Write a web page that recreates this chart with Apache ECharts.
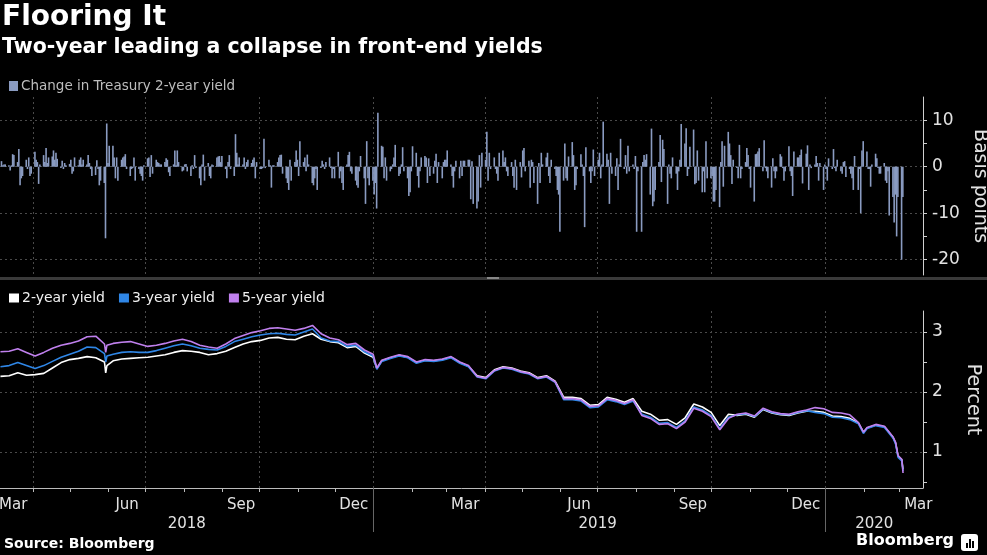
<!DOCTYPE html>
<html><head><meta charset="utf-8">
<script src="https://cdn.jsdelivr.net/npm/echarts@6/dist/echarts.min.js"></script>
<style>html,body{margin:0;padding:0;background:#000}#c{width:987px;height:555px}</style>
</head><body><div id="c"></div>
<script>
// ---------- DATA ----------
// Daily change in Treasury 2-year yield (bp), in segments of consecutive weekdays
const seg1Start = [2018, 3, 6];
const seg1 = [1.2,0.3,0.5,0.5,0.3,-0.8,0.3,2.7,2.5,1,
 3.8,-4,-2.5,-2,1.5,-0.5,2,-2,-1.5,3.2,
 1.5,1,-3.7,0.5,2.5,1,4,0.8,2,2.2,
 3.5,1.5,3,1.7,-0.3,1.3,-0.5,0.8,0.3,0.6,
 1.5,-1.5,-1,2,0.3,1.5,2,0.5,1.5,0.5,
 2.5,0.8,-0.5,-2,-1.8,1.4,-0.5,-4,-3,-3.5,
 -15.4,9.3,0.8,4.5,4.5,2,-2.5,2,-3,1.5,
 2,2.2,2.7,-0.5,-2,-0.5,-0.3,2,-3,-0.5,
 -1.5,-2,-3,0.3,1.8,2,-2.2,2.5,-1.5,1.5,
 1,0.8,0.5,0.5,1,1.8,1.5,-1.2,-2,0.5,
 3.5,0.3,3.5,1,-1,-0.8,0.5,0.6,-1,-2,
 0.3,-0.5,2.5,-0.3,-2.5,-4,0.5,2.6,-3,0.8,
 -2,-2.5,0.5,0.3,2,2.2,2.3,1,2.3,-0.5,
 -2.5,1,2.5,-0.5];
const seg2Start = [2018, 9, 10];
const seg2 = [-2,7,3,0.5,2,0.5,2,-0.5,
 1,1.5,0.8,1.5,2,-2.5,1,-0.5,-0.5,-0.3,
 6,-0.3,1.5,0.3,-4.5,0.3,0.3,1,2,
 2.5,2.6,-1.5,-2.5,-3.5,-5,1.5,-3,1,
 3.5,1.5,-2,5.5,1,2,-1,2.6,0.5,-3.5,
 -4,-2.5,-0.5,-5,-0.3,1.3,0.5,-0.5,1,2,
 -0.3,-2.5,-0.5,-2.5,3.2,-2.5,-1,-3.5,-5,0.5,
 2.5,3.2,-1,-1.5,-3,-4,-4.5,-1,2.3,
 -2.5,-8,5.5,-2.5,-4,-3,-6,-3.5,-9,11.6,
 4.5,4.3,-2.5,2,-3,-1,-0.5,0.5,2,
 4.7,-2,-1.5,0.5,4.2,-1,-2.5,-6.3,-5.5,-1,
 4.4,3,-2,-4.5,-1,2,2.3,2,-3.5,
 1.8,-2,-1.5,1.3,2.8,-3.5,1,-2.5,1,1.5,
 1.5,3.5,0.5,-2,-4.5,-1,1.3,-2.5,1.3,
 -2,1.3,1.3];
const seg3Start = [2019, 3, 18];
const seg3 = [1.5,1.5,-7,1.2,-8,-9,-7.5,2.5,-4.5,3,
 1.5,7.5,-3,3,-0.5,2,-0.5,-1.5,-3,
 3,3.5,1,2,-1,-2,1,-2,-4.5,
 1.5,-5,1,-2.3,3.5,4,-1,1.3,-4.5,1.5,
 1,-3.5,-8,0.8,-3.5,3,0.5,2,3,
 -2,-3.5,1.5,-0.5,-2,-5,-6,-14,-3,5,
 -2.5,-3,2.2,5.3,2.5,-5,-4,-0.5,2.7,
 0.5,-2,-13,4.2,-1,-3.5,-1,3.7,-2,1.5,
 3,-2.5,0.5,9.7,2.8,1.5,-8,3,-1.5,
 -2,1.8,-5,0.5,6,-0.5,2.5,-1.5,4.5,-1,
 0.5,-0.5,2.3,-14,-1,-14,1,2.5,1.5,
 2.7,-6,8.2,-8.5,-7.5,-5,1,6.8,-3.3,5.8,
 3.8,-8,0.5,-1.5,-2.5,2,-1.5,-5,-1,1.5,
 9.2,5,8.3,-2,-0.5,4.3,8,-3.8,-3.5,3.5];
const seg4Start = [2019, 9, 20];
const seg4 = [-3,-5.5,-1,-5.5,5.5,-2.5,-2.5,-2,-7.5,-7.5,
 -5,-8.7,1,5.5,-4.3,4.5,7.5,5,2.5,-3.7,
 1.5,-0.3,-2.5,4.7,-2.5,-0.5,1,4,2.5,-0.5,
 -4.5,-7.5,2.7,2.8,3.3,4,-1,5.7,-0.3,-1,
 -2.5,-4.5,1.8,-1,-2.5,-1,2.7,2.2,-0.3,
 -3,-1,4.4,-1,-2,-6.3,3.3,2,2,2.5,
 3.7,-3.6,2.8,4.6,-5,0.5,-0.3,0.5,
 2.3,0.8,-3,0.8,-5,0.5,-0.5,-3,1.8,
 -0.5,3.8,-0.3,-1,1.5,-1,-1.5,1,1.2,-2.2,
 -0.5,-1.5,-2.5,-5,2.3,-5,-0.5,-10,3.5,
 5.5,3.3,-0.5,-0.5,-4.3,0.5,2.8,1.8,-0.3,-1.5,
 -1.5,0.8,-3,-3.5,-1,-10.5,-6.5,-12,-6,-15,
 -6.5,-20,-6.5];

// Weekly yields (%), one value per Monday starting 2018-03-05
const weekStart = [2018, 3, 5];
const y2 = [2.26,2.27,2.32,2.28,2.29,2.31,2.40,2.49,2.54,2.56,
 2.59,2.57,2.50,2.52,2.55,2.56,2.57,2.58,2.60,2.62,
 2.66,2.69,2.68,2.66,2.62,2.64,2.68,2.74,2.80,2.84,
 2.86,2.90,2.91,2.88,2.87,2.93,2.97,2.88,2.84,
 2.82,2.74,2.76,2.65,2.58,
 2.52,2.57,2.61,2.58,2.49,2.53,2.52,2.54,2.58,2.49,2.43,
 2.27,2.24,2.37,2.42,2.40,2.35,2.32,2.24,2.27,2.18,
 1.91,1.91,1.89,1.78,1.79,1.91,1.88,1.83,1.89,
 1.68,1.63,1.53,1.54,1.46,1.57,1.80,1.75,1.66,1.44,1.63,
 1.61,1.63,1.58,1.71,1.65,1.62,1.61,1.65,1.68,
 1.68,1.66,1.60,1.59,1.56,
 1.48,1.40,1.45,1.42,1.24,0.87];
const y3 = [2.42,2.44,2.49,2.44,2.39,2.44,2.51,2.58,2.63,2.68,
 2.75,2.74,2.64,2.63,2.66,2.67,2.66,2.66,2.69,2.73,
 2.77,2.80,2.77,2.73,2.71,2.70,2.76,2.84,2.88,2.92,
 2.95,2.97,2.98,2.96,2.95,3.00,3.05,2.90,2.85,
 2.84,2.76,2.78,2.67,2.60,
 2.51,2.56,2.60,2.57,2.48,2.52,2.51,2.53,2.57,2.48,2.42,
 2.25,2.22,2.35,2.40,2.38,2.33,2.30,2.22,2.25,2.16,
 1.87,1.87,1.85,1.74,1.75,1.87,1.84,1.79,1.85,
 1.63,1.58,1.48,1.49,1.41,1.52,1.75,1.70,1.61,1.39,1.58,
 1.62,1.64,1.59,1.72,1.66,1.63,1.62,1.66,1.69,
 1.66,1.64,1.58,1.57,1.54,
 1.47,1.39,1.44,1.41,1.23,0.85];
const y5 = [2.67,2.68,2.72,2.66,2.60,2.66,2.73,2.78,2.81,2.85,
 2.92,2.93,2.80,2.81,2.83,2.84,2.80,2.76,2.78,2.81,
 2.85,2.88,2.84,2.78,2.75,2.73,2.80,2.89,2.94,2.99,
 3.02,3.06,3.07,3.05,3.03,3.06,3.11,2.97,2.90,
 2.87,2.79,2.81,2.70,2.63,
 2.53,2.58,2.62,2.59,2.50,2.54,2.53,2.55,2.59,2.50,2.44,
 2.26,2.23,2.36,2.41,2.39,2.34,2.31,2.23,2.26,2.17,
 1.89,1.89,1.87,1.76,1.77,1.89,1.86,1.81,1.87,
 1.61,1.56,1.46,1.47,1.39,1.50,1.73,1.68,1.59,1.37,1.56,
 1.63,1.65,1.60,1.73,1.67,1.64,1.63,1.67,1.70,
 1.74,1.72,1.66,1.65,1.62,
 1.49,1.41,1.46,1.43,1.25,0.88];
// Extra daily readings between the weekly points
const extraDates = ['2018-05-29','2018-05-30','2019-01-03','2020-01-31','2020-02-26','2020-02-28','2020-03-03'];
const extra2 = [2.32,2.44,2.39,1.33,1.15,0.93,0.71];
const extra3 = [2.50,2.60,2.38,1.31,1.13,0.91,0.68];
const extra5 = [2.66,2.78,2.40,1.33,1.16,0.94,0.65];

// Axis texts
const monthLabelMonths = [[2018,3],[2018,6],[2018,9],[2018,12],[2019,3],[2019,6],[2019,9],[2019,12],[2020,3]];
const yearLabels = ['2018','2019','2020'];
const barTicks = [-20,-15,-10,-5,0,5,10];
const barLabels = [-20,-10,0,10];
const barGrid = [-20,-10,0,10];
const pctTicks = [0.5,1,1.5,2,2.5,3];
const pctLabels = [1,2,3];

// ---------- BUILD ----------
const T = (y,m,d,h) => new Date(y, m-1, d, h||0).getTime();
function weekdays(start, n) {
  const out = []; const d = new Date(start[0], start[1]-1, start[2], 12);
  while (out.length < n) { const w = d.getDay(); if (w !== 0 && w !== 6) out.push(d.getTime()); d.setDate(d.getDate()+1); }
  return out;
}
const barData = [];
[[seg1Start,seg1],[seg2Start,seg2],[seg3Start,seg3],[seg4Start,seg4]].forEach(([s,v]) => {
  const ds = weekdays(s, v.length); v.forEach((x,i) => barData.push([ds[i], x]));
});
function lineData(weekly, extra) {
  const pts = weekly.map((v,k) => [new Date(weekStart[0], weekStart[1]-1, weekStart[2]+7*k, 16).getTime(), v]);
  extraDates.forEach((s,i) => { const p = s.split('-').map(Number); pts.push([T(p[0],p[1],p[2],16), extra[i]]); });
  pts.sort((a,b) => a[0]-b[0]);
  return pts;
}
const xMin = T(2018,3,5,7), xMax = T(2020,3,19,19);
const monthStarts = []; for (let y=2018; y<=2020; y++) for (let m=1; m<=12; m++) { const t = T(y,m,1); if (t>xMin && t<xMax) monthStarts.push(t); }
const quarterStarts = monthStarts.filter(t => [0,3,6,9].includes(new Date(t).getMonth()));
const yearStarts = [T(2019,1,1), T(2020,1,1)];
const monthMid = monthLabelMonths.map(([y,m]) => T(y,m,16));
const yearMid = [(xMin+yearStarts[0])/2, T(2019,7,1), (yearStarts[1]+xMax)/2];
const MN = ['Jan','Feb','Mar','Apr','May','Jun','Jul','Aug','Sep','Oct','Nov','Dec'];
const yearText = v => { const i = yearMid.findIndex(t => Math.abs(t - v) < 864e5); return i >= 0 ? yearLabels[i] : ''; };
const monthText = v => MN[new Date(v).getMonth()];

const F = "'DejaVu Sans', sans-serif";
const txt = '#e2e2e2';
const gridLine = {show:true, lineStyle:{color:'#4a4a4a', type:[2,3], width:1}};
const G1 = {left:0, right:64, top:97, height:178, outerBoundsMode:'none', containLabel:false};
const G2 = {left:0, right:64, top:311, height:177, outerBoundsMode:'none', containLabel:false};
const xBase = {type:'value', min:xMin, max:xMax, scale:true};

const chart = echarts.init(document.getElementById('c'), null, {renderer:'canvas'});
chart.setOption({
  backgroundColor:'#000',
  animation:false,
  grid:[G1, G2],
  legend:[
    {data:['Change in Treasury 2-year yield'], left:4, top:74, icon:'rect', itemWidth:9, itemHeight:10, itemGap:10, selectedMode:false,
     textStyle:{color:'#bdbdbd', fontSize:13.5, fontFamily:F, padding:[0,0,0,-2]}},
    {data:['2-year yield','3-year yield','5-year yield'], left:4, top:286, icon:'rect', itemWidth:10, itemHeight:9, itemGap:14, selectedMode:false,
     textStyle:{color:'#f0f0f0', fontSize:14, fontFamily:F, padding:[0,0,0,-2]}}
  ],
  xAxis:[
    Object.assign({gridIndex:0, axisLine:{show:false}, axisLabel:{show:false},
     axisTick:{show:false, customValues:quarterStarts}, splitLine:gridLine}, xBase),
    Object.assign({gridIndex:1,
     axisLine:{show:true, onZero:false, lineStyle:{color:'#bbbbbb', width:1}},
     axisTick:{show:true, customValues:monthStarts, length:4, lineStyle:{color:'#bbbbbb'}},
     axisLabel:{customValues:monthMid, formatter:monthText, color:txt, fontSize:15, fontFamily:F, margin:10},
     splitLine:{show:false}}, xBase),
    Object.assign({gridIndex:1, position:'bottom',
     axisLine:{show:false, onZero:false},
     axisTick:{show:true, customValues:yearStarts, length:44, lineStyle:{color:'#666'}},
     axisLabel:{customValues:yearMid, formatter:yearText, color:txt, fontSize:15, fontFamily:F, margin:29},
     splitLine:{show:false}}, xBase),
    Object.assign({gridIndex:1, axisLine:{show:false, onZero:false}, axisLabel:{show:false},
     axisTick:{show:false, customValues:quarterStarts}, splitLine:gridLine}, xBase)
  ],
  yAxis:[
    {gridIndex:0, type:'value', position:'right', min:-23.3, max:15,
     axisLine:{show:true, lineStyle:{color:'#cfcfcf'}},
     axisTick:{show:true, customValues:barTicks, length:4, lineStyle:{color:'#cfcfcf'}},
     axisLabel:{customValues:barLabels, color:txt, fontSize:17, fontFamily:F, margin:9},
     splitLine:{show:false},
     name:'Basis points', nameLocation:'middle', nameRotate:-90, nameGap:40,
     nameTextStyle:{color:txt, fontSize:19, fontFamily:F}},
    {gridIndex:0, type:'value', position:'right', min:-23.3, max:15,
     axisLine:{show:false}, axisLabel:{show:false}, axisTick:{show:false, customValues:barGrid}, splitLine:gridLine},
    {gridIndex:1, type:'value', position:'right', min:0.4, max:3.35,
     axisLine:{show:true, lineStyle:{color:'#cfcfcf'}},
     axisTick:{show:true, customValues:pctTicks, length:4, lineStyle:{color:'#cfcfcf'}},
     axisLabel:{customValues:pctLabels, color:txt, fontSize:17, fontFamily:F, margin:9},
     splitLine:{show:false},
     name:'Percent', nameLocation:'middle', nameRotate:-90, nameGap:40,
     nameTextStyle:{color:txt, fontSize:19, fontFamily:F}},
    {gridIndex:1, type:'value', position:'right', min:0.4, max:3.35,
     axisLine:{show:false}, axisLabel:{show:false}, axisTick:{show:false, customValues:pctLabels}, splitLine:gridLine}
  ],
  series:[
    {name:'Change in Treasury 2-year yield', type:'bar', xAxisIndex:0, yAxisIndex:0, data:barData, barWidth:1.6,
     itemStyle:{color:'#8a9bc1'}, color:'#8a9bc1'},
    {name:'2-year yield', type:'line', xAxisIndex:1, yAxisIndex:2, data:lineData(y2, extra2), showSymbol:false, symbol:'none',
     color:'#ffffff', lineStyle:{color:'#ffffff', width:1.6}},
    {name:'3-year yield', type:'line', xAxisIndex:1, yAxisIndex:2, data:lineData(y3, extra3), showSymbol:false, symbol:'none',
     color:'#2f86e6', lineStyle:{color:'#2f86e6', width:1.6}},
    {name:'5-year yield', type:'line', xAxisIndex:1, yAxisIndex:2, data:lineData(y5, extra5), showSymbol:false, symbol:'none',
     color:'#c080ee', lineStyle:{color:'#c080ee', width:1.6}}
  ],
  graphic:[
    {type:'text', left:2, top:4, style:{text:'Flooring It', fill:'#fff', font:"bold 28px 'DejaVu Sans'"}},
    {type:'text', left:2, top:37, style:{text:'Two-year leading a collapse in front-end yields', fill:'#fff', font:"bold 20.5px 'DejaVu Sans'"}},
    {type:'rect', left:0, top:277, shape:{width:987, height:3}, style:{fill:'#3a3a3a'}},
    {type:'rect', left:487, top:277, shape:{width:12, height:2}, style:{fill:'#888'}},
    {type:'text', left:4, top:537, style:{text:'Source: Bloomberg', fill:'#fff', font:"bold 14px 'DejaVu Sans'"}},
    {type:'text', right:33, top:533, style:{text:'Bloomberg', fill:'#fff', font:"bold 16px 'DejaVu Sans'"}},
    {type:'rect', right:9, top:534, shape:{width:17, height:17, r:3}, style:{fill:'#fff'}},
    {type:'rect', right:19, top:543, shape:{width:2, height:5}, style:{fill:'#000'}},
    {type:'rect', right:16, top:539, shape:{width:2, height:9}, style:{fill:'#000'}},
    {type:'rect', right:13, top:541, shape:{width:2, height:7}, style:{fill:'#000'}}
  ]
});
</script></body></html>
